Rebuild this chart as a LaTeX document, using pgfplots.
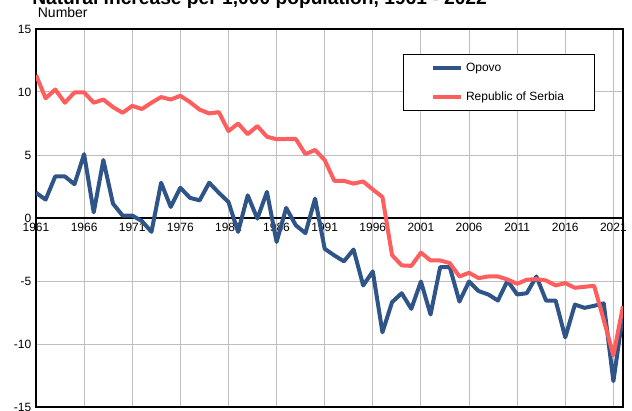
\documentclass[border=0pt]{standalone}
\usepackage{fontspec}
\setmainfont{Liberation Sans}
\usepackage{pgfplots}
\pgfplotsset{compat=1.18}

\definecolor{opovo}{RGB}{47,84,135}
\definecolor{serbia}{RGB}{255,94,94}
\definecolor{gridgray}{RGB}{190,190,190}

% natural increase per 1,000 population
\pgfplotstableread{
year opovo serbia
1961 2.0 11.35
1962 1.46 9.5
1963 3.3 10.2
1964 3.3 9.15
1965 2.68 9.97
1966 5.07 9.97
1967 0.45 9.15
1968 4.6 9.4
1969 1.14 8.8
1970 0.19 8.35
1971 0.19 8.9
1972 -0.24 8.65
1973 -1.1 9.15
1974 2.8 9.6
1975 0.88 9.4
1976 2.4 9.7
1977 1.6 9.2
1978 1.4 8.6
1979 2.8 8.3
1980 2.0 8.4
1981 1.27 6.9
1982 -1.1 7.5
1983 1.8 6.65
1984 -0.05 7.3
1985 2.07 6.45
1986 -1.9 6.25
1987 0.8 6.27
1988 -0.58 6.27
1989 -1.2 5.07
1990 1.54 5.4
1991 -2.44 4.6
1992 -2.97 2.95
1993 -3.44 2.95
1994 -2.5 2.73
1995 -5.35 2.9
1996 -4.24 2.26
1997 -9.07 1.67
1998 -6.68 -2.95
1999 -5.97 -3.76
2000 -7.21 -3.8
2001 -5.04 -2.75
2002 -7.66 -3.37
2003 -3.9 -3.37
2004 -3.9 -3.58
2005 -6.63 -4.64
2006 -5.04 -4.35
2007 -5.8 -4.77
2008 -6.07 -4.64
2009 -6.55 -4.64
2010 -4.98 -4.88
2011 -6.07 -5.22
2012 -5.97 -4.9
2013 -4.64 -4.85
2014 -6.55 -4.96
2015 -6.55 -5.35
2016 -9.47 -5.17
2017 -6.87 -5.54
2018 -7.13 -5.46
2019 -6.97 -5.38
2020 -6.78 -8.1
2021 -12.95 -10.9
2022 -7.6 -7.0
}\datatable

\begin{document}
\begin{tikzpicture}
\begin{axis}[
    name=ax,
    scale only axis,
    width=440.25pt, height=283.5pt,
    xmin=1961, xmax=2022,
    ymin=-15, ymax=15,
    xtick={1961,1966,...,2021},
    ytick={-15,-10,...,15},
    extra y ticks={0},
    extra y tick labels={},
    extra y tick style={grid style={black, solid, line width=0.8pt}},
    xticklabel style={yshift=141.75pt, /pgf/number format/1000 sep={}},
    /pgf/number format/assume math mode=true,
    tick label style={font=\fontsize{9}{10}\selectfont},
    major tick length=0pt,
    grid=major,
    grid style={gridgray, line width=0.75pt},
    axis line style={black, line width=0.8pt},
    legend style={at={(0.625,0.933)}, anchor=north west, draw=black,
        line width=0.75pt, inner xsep=21pt, inner ysep=4pt,
        row sep=10pt, font=\fontsize{9}{10}\selectfont},
    legend cell align=left,
    legend image code/.code={\draw[#1] (0pt,0pt) -- (21pt,0pt);},
]
\addplot[opovo, line width=3pt, line join=round] table[x=year, y=opovo] {\datatable};
\addlegendentry{Opovo}
\addplot[serbia, line width=3pt, line join=round] table[x=year, y=serbia] {\datatable};
\addlegendentry{Republic of Serbia}
\end{axis}
\node[anchor=base west, inner sep=0pt, font=\fontsize{10.5}{12}\selectfont] at ([shift={(1.2pt,8.3pt)}]ax.north west) {Number};
\node[anchor=base west, inner sep=0pt, font=\bfseries\fontsize{14.4}{17}\selectfont] at ([shift={(-3pt,18.6pt)}]ax.north west) {Natural increase per 1,000 population, 1961 - 2022};
\pgfresetboundingbox
\path[use as bounding box] ([shift={(-27pt,-2.25pt)}]ax.south west) rectangle ([shift={(6.75pt,21.75pt)}]ax.north east);
\end{tikzpicture}
\end{document}
